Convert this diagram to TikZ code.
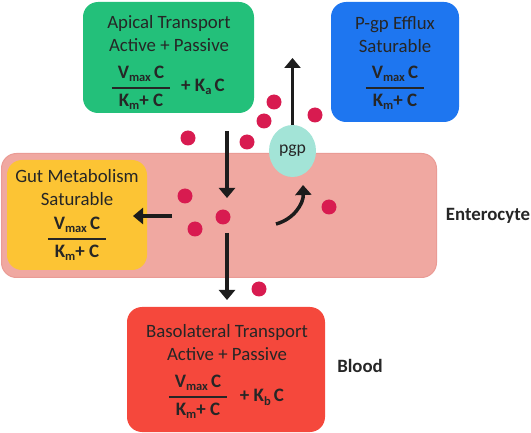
\documentclass[tikz,border=0pt]{standalone}
\usepackage{amsmath}
\usepackage{fontspec}
\setmainfont{Carlito}
\usetikzlibrary{shapes.geometric,arrows.meta}

\definecolor{apicalgreen}{RGB}{35,192,122}
\definecolor{effluxblue}{RGB}{30,118,240}
\definecolor{gutyellow}{RGB}{252,196,52}
\definecolor{basored}{RGB}{245,72,60}
\definecolor{cellpink}{RGB}{240,168,161}
\definecolor{celledge}{RGB}{234,155,149}
\definecolor{drugred}{RGB}{216,27,80}
\definecolor{pgpteal}{RGB}{163,228,215}
\definecolor{textgray}{RGB}{38,38,38}
\definecolor{arrowblack}{RGB}{28,28,28}

% lowered subscript and saturable rate law, V_max C / (K_m + C)
\newcommand{\lowsub}[1]{\raisebox{-3pt}{\fontsize{12.5}{13}\selectfont #1}}
\newcommand{\satrate}{$\genfrac{}{}{1.8pt}{0}{\hspace{6pt}\text{V\lowsub{max}\,C}\hspace{6pt}}{\text{K\lowsub{m}+ C}}$}

\begin{document}
\begin{tikzpicture}[x=1pt,y=-1pt,
	box/.style={rounded corners=15pt, inner sep=0pt},
	boxtitle/.style={text=textgray, align=center, inner sep=0pt, font=\fontsize{18.8}{23}\selectfont},
	ratelaw/.style={text=textgray, inner sep=0pt, font=\fontsize{19}{23}\selectfont\bfseries},
	sidelabel/.style={text=textgray, inner sep=0pt, font=\fontsize{18.8}{23}\selectfont\bfseries},
	drug/.style={circle, fill=drugred, inner sep=0pt, minimum size=15pt},
	flux/.style={line width=3.5pt, draw=arrowblack, -{Triangle[width=16pt,length=10pt]}}]
	\useasboundingbox (0,0) rectangle (531,433);
	% enterocyte layer and the four boxes
	\node (cell)	at (219, 215.5)	[box, fill=cellpink, draw=celledge, line width=1pt, minimum width=435pt, minimum height=124pt]	{};
	\node (apical)	at (168.5, 57.5)	[box, fill=apicalgreen, minimum width=171pt, minimum height=111pt]	{};
	\node (efflux)	at (395, 62)	[box, fill=effluxblue, minimum width=128pt, minimum height=120pt]	{};
	\node (gut)	at (77, 215)	[box, fill=gutyellow, minimum width=140pt, minimum height=110pt]	{};
	\node (baso)	at (226, 369.5)	[box, fill=basored, minimum width=198pt, minimum height=125pt]	{};
	% box texts
	\node (apicaltitle)	at (169, 34)	[boxtitle]	{Apical Transport\\Active + Passive};
	\node (apicalrate)	at (141, 88)	[ratelaw]	{\satrate};
	\node (apicalpass)	at (203, 92)	[ratelaw, anchor=base]	{+ K\lowsub{a}\,C};
	\node (effluxtitle)	at (395, 35)	[boxtitle]	{P-gp Efflux\\Saturable};
	\node (effluxrate)	at (395, 88)	[ratelaw]	{\satrate};
	\node (guttitle)	at (77, 188)	[boxtitle]	{Gut Metabolism\\Saturable};
	\node (gutrate)	at (77, 239)	[ratelaw]	{\satrate};
	\node (basotitle)	at (227, 343)	[boxtitle]	{Basolateral Transport\\Active + Passive};
	\node (basorate)	at (198, 397)	[ratelaw]	{\satrate};
	\node (basopass)	at (262, 402)	[ratelaw, anchor=base]	{+ K\lowsub{b}\,C};
	\node (enterocyte)	at (488, 221)	[sidelabel, anchor=base]	{Enterocyte};
	\node (blood)	at (360, 372)	[sidelabel, anchor=base]	{Blood};
	% transporter
	\node (pgp)	at (292.5, 151)	[ellipse, fill=pgpteal, minimum width=47pt, minimum height=52pt, boxtitle, font=\fontsize{17.7}{20}\selectfont]	{pgp};
	% drug molecules
	\node (d1)	at (188, 138)	[drug]	{};
	\node (d2)	at (247, 142)	[drug]	{};
	\node (d3)	at (264, 121)	[drug]	{};
	\node (d4)	at (274, 102)	[drug]	{};
	\node (d5)	at (315, 115)	[drug]	{};
	\node (d6)	at (185, 196)	[drug]	{};
	\node (d7)	at (223, 217)	[drug]	{};
	\node (d8)	at (195, 229)	[drug]	{};
	\node (d9)	at (329, 207)	[drug]	{};
	\node (d10)	at (259, 289)	[drug]	{};
	% fluxes
	\coordinate (apicalout)	at (227, 131);
	\coordinate (cellin)	at (227, 198);
	\coordinate (cellout)	at (227, 233);
	\coordinate (basoin)	at (227, 300);
	\coordinate (gutfrom)	at (172, 216);
	\coordinate (gutin)	at (133, 216);
	\coordinate (effluxout)	at (292.5, 58);
	\coordinate (swingfrom)	at (276, 224);
	\coordinate (swingto)	at (303, 185);
	\draw[flux] (apicalout) -- (cellin);
	\draw[flux] (cellout) -- (basoin);
	\draw[flux] (gutfrom) -- (gutin);
	\draw[flux] (pgp.north) -- (effluxout);
	\draw[flux] (swingfrom) to[out=15, in=-88] (swingto);
\end{tikzpicture}
\end{document}
